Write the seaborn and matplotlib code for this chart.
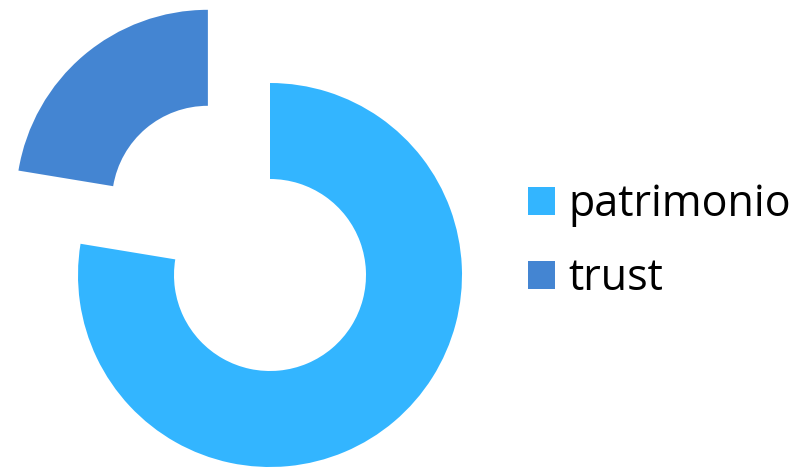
import matplotlib
matplotlib.use("Agg")
import matplotlib.pyplot as plt
import seaborn as sns

labels = ["patrimonio", "trust"]
shares = [77.6, 22.4]
colors = ["#33B5FF", "#4485D2"]

sns.set_style("white")
plt.rcParams['font.family'] = ['Open Sans', 'DejaVu Sans']

fig = plt.figure(figsize=(8.02, 4.67), dpi=100)
ax = fig.add_axes([0, 0, 1, 1])

wedges, _ = ax.pie(shares, colors=colors, startangle=90, counterclock=False,
                   explode=[0, 0.5], radius=1,
                   wedgeprops=dict(width=0.5, linewidth=0))

# keep one data unit = 192 px so the donut sits where it does in the picture
ax.set_xlim(-270 / 192, (802 - 270) / 192)
ax.set_ylim(-192 / 192, 275 / 192)
ax.set_aspect('auto')
ax.axis('off')

leg = fig.legend(wedges, labels, loc='center left', bbox_to_anchor=(528 / 802, 225 / 467),
                 frameon=False, fontsize=31, borderpad=0, borderaxespad=0,
                 handlelength=0.63, handleheight=0.63, handletextpad=0.3,
                 labelspacing=0.69)
for t in leg.get_texts():
    t.set_color("black")

fig.savefig("out.png", dpi=100)
